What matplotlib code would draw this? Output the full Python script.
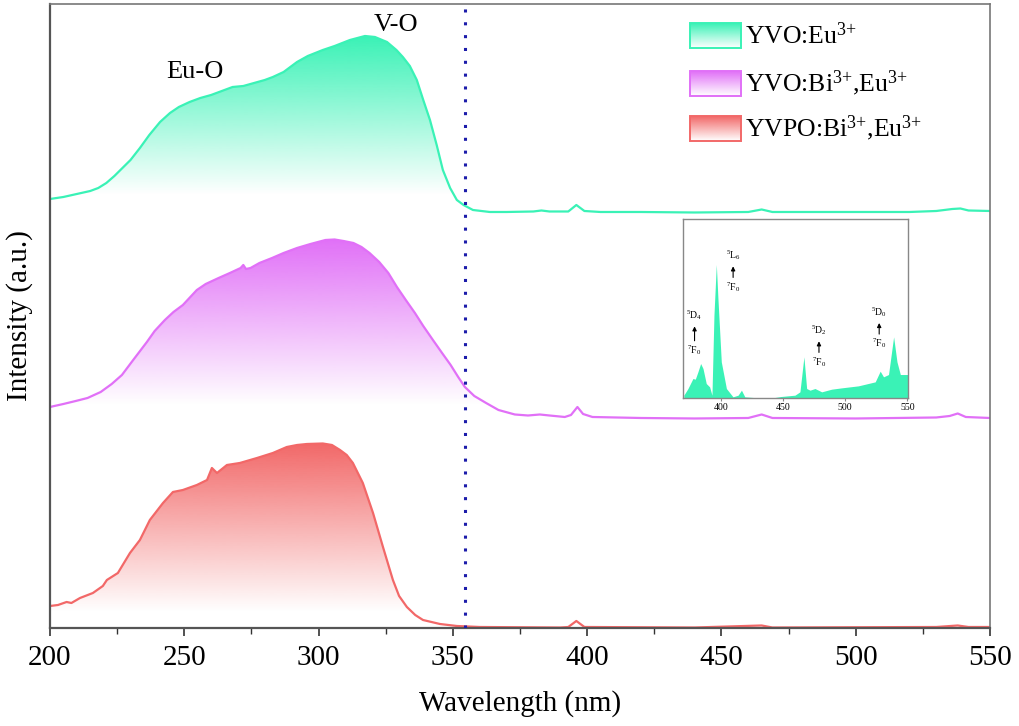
import matplotlib
matplotlib.use("Agg")
import matplotlib.pyplot as plt
import numpy as np
from matplotlib.colors import to_rgb
from matplotlib.patches import Polygon, Rectangle

plt.rcParams['font.family'] = ['Liberation Serif', 'DejaVu Serif']
plt.rcParams['mathtext.fontset'] = 'custom'
plt.rcParams['mathtext.rm'] = 'Liberation Serif'
plt.rcParams['mathtext.it'] = 'Liberation Serif:italic'
plt.rcParams['mathtext.bf'] = 'Liberation Serif:bold'

# --- main excitation spectra (wavelength nm, intensity a.u., curves already stacked) ---
wl_yvo = [200, 205, 210, 215, 218, 221, 224, 227, 230, 233.5, 237, 241, 244.7, 248, 252, 256,
          260, 264, 268, 272, 276, 280, 283, 287, 292, 296, 301.6, 306, 311.7, 317.3, 321,
          325.5, 329, 331.4, 334, 336.6, 339, 341.5, 344, 346.3, 349, 351.5, 354, 357.5,
          363.8, 370, 380, 383, 386, 393, 396, 399, 405, 420, 440, 460, 465, 469, 500, 520,
          530, 536, 539, 542, 550]
int_yvo = [429, 431, 434, 437, 440, 445, 452, 460, 468, 480, 493, 506, 515, 521, 526, 530,
           533, 537, 541, 542, 545, 548, 551, 556, 566, 572, 578, 582, 588, 592, 591,
           586, 578, 571, 562, 548, 528, 508, 483, 458, 440, 428, 423, 418,
           416, 416, 416.5, 417.5, 416.5, 416.5, 423, 417, 416, 416, 415.5, 416, 418.5, 416, 416, 416,
           417, 419, 419.5, 417.5, 417]

wl_bi = [200, 205, 209.6, 214, 218.9, 223, 226.8, 231, 236.1, 239, 242.8, 246, 249.5, 254.7,
         258, 262.8, 267, 271, 272, 273, 274.7, 278, 282.7, 287, 292, 297, 302.6, 306, 309.3,
         313, 316, 319, 322.6, 326, 329.2, 332.5, 335.9, 339, 342.6, 346, 349.2, 352, 354.5,
         358, 362.4, 367, 373.1, 378, 382.4, 386, 391.7, 394, 396.4, 398.5, 402, 420, 440,
         460, 465, 469, 500, 530, 535, 538, 541, 550]
int_bi = [221, 224, 227, 230, 236, 244, 253, 268, 286, 297, 308, 316, 323, 338,
          344, 350, 355, 360, 363, 359, 360, 365, 370, 375, 380, 384, 388, 388.5, 387,
          385, 381, 375, 366, 355, 341, 328, 315, 302, 288, 275, 263, 251, 241,
          232, 225, 218, 213.5, 212.5, 213.5, 212.5, 211, 213, 221, 214, 211, 210, 209.5,
          210, 213.5, 210, 209.5, 210.5, 212, 214.5, 211, 210]

wl_yvpo = [200, 203, 206.2, 208, 211.2, 216, 219.7, 221.2, 225.3, 229.8, 233.5, 237.2, 242.1,
           245.8, 249.5, 254.7, 258.5, 260.3, 262.2, 265.9, 270.7, 277.1, 283, 288.2, 292,
           295.7, 301.6, 305, 308, 310.5, 312.8, 316.5, 320.3, 324, 327.7, 330, 332.9, 336,
           338.9, 345.2, 351.5, 360, 390, 393, 396, 399, 440, 465, 469, 530, 538, 542, 550]
int_yvpo = [22, 23, 26, 25, 30, 35, 42, 48, 55, 75, 88, 108, 125,
            136, 138, 143, 148, 160, 155, 163, 165, 170, 175, 181, 183,
            184, 184.5, 183, 178, 173, 165, 145, 115, 81, 48, 32, 21, 13,
            8, 4, 2, 1, 0.5, 1, 7, 1, 0.5, 2.5, 0.5, 1, 2.5, 1, 1]

labels = ['YVO:Eu$^{3{+}}$', 'YVO:Bi$^{3{+}}$,Eu$^{3{+}}$', 'YVPO:Bi$^{3{+}}$,Eu$^{3{+}}$']
colors = ['#3af2b6', '#e170f7', '#f26868']
fade_to = [433, 223, 16]   # level where the fill has faded to white

# --- inset: YVO:Eu3+ spectrum ---
wl_inset = [370.4, 373.7, 377.7, 379.6, 381.7, 383.9, 385.8, 388.4, 391.1, 393, 394.6, 396.5,
            397.8, 400.5, 404.6, 409.9, 414, 416.7, 419.4, 430, 443.5, 448.4, 459.7, 463.7,
            466.9, 469.1, 471.8, 475.8, 481.2, 489.2, 497.3, 510.7, 524.2, 528.2, 530.9,
            534.9, 539, 541.7, 544.4, 550.6]
int_inset = [8, 28, 58, 56, 78, 103, 88, 43, 33, 8, 248, 400,
             298, 108, 28, 3, 8, 23, 3, 0, 1, 4, 8, 18,
             123, 28, 23, 28, 18, 26, 30, 36, 48, 80, 63,
             70, 183, 108, 70, 70]
trans_up = ['$^5$D$_4$', '$^5$L$_6$', '$^5$D$_2$', '$^5$D$_0$']
trans_wl = [379, 410, 479, 527.4]
trans_lo = [143, 333, 108, 163]
trans_hi = [248, 428, 203, 258]

fig = plt.figure(figsize=(10.19, 7.26), dpi=100)
ax = fig.add_axes([0.049, 0.135, 0.9225, 0.8595])


def gradient_fill(axis, x, y, color, low, lw=1.6):
    x = np.asarray(x, float)
    y = np.asarray(y, float)
    base = y.min()
    verts = np.column_stack([np.r_[x[0], x, x[-1]], np.r_[base, y, base]])
    poly = Polygon(verts, closed=True, facecolor='none', edgecolor='none')
    axis.add_patch(poly)
    top = y.max()
    n = 256
    rgba = np.zeros((n, 1, 4))
    rgba[:, 0, :3] = to_rgb(color)
    rgba[:, 0, 3] = np.linspace(1, 0, n)
    im = axis.imshow(rgba, extent=[x[0], x[-1], low, top], origin='upper',
                     aspect='auto', zorder=1, interpolation='bilinear')
    im.set_clip_path(poly)
    axis.plot(x, y, color=color, lw=lw, zorder=2)


for wl, it, c, lo in zip([wl_yvo, wl_bi, wl_yvpo], [int_yvo, int_bi, int_yvpo], colors, fade_to):
    gradient_fill(ax, wl, it, c, lo)

ax.axvline(354.5, color='#1c1caa', lw=2.2, ls=(0, (1, 3.2)), zorder=3)

ax.text(254, 556, 'Eu-O', fontsize=19, ha='center', va='center')
ax.text(329, 603, 'V-O', fontsize=19, ha='center', va='center')

ax.set_xlim(200, 550)
ax.set_ylim(0, 624)
ax.set_xticks(np.arange(200, 551, 50))
ax.set_xticks(np.arange(225, 550, 50), minor=True)
ax.set_yticks([])
ax.tick_params(axis='x', which='major', direction='out', length=6, width=1.2,
               labelsize=21, pad=6, color='#333333')
ax.tick_params(axis='x', which='minor', direction='out', length=4, width=1.0, color='#333333')
for side, sp in ax.spines.items():
    sp.set_color('#555555' if side in ('left', 'bottom') else '#777777')
    sp.set_linewidth(1.6 if side in ('left', 'bottom') else 1.2)
ax.set_xlabel('Wavelength (nm)', fontsize=21, labelpad=14)
ax.set_ylabel('Intensity (a.u.)', fontsize=21, labelpad=12)

# legend with gradient swatches
leg_y = [0.950, 0.873, 0.801]
for lab, c, yc in zip(labels, colors, leg_y):
    x0, x1, h = 0.681, 0.735, 0.040
    rgba = np.zeros((64, 1, 4))
    rgba[:, 0, :3] = to_rgb(c)
    rgba[:, 0, 3] = np.linspace(1, 0, 64)
    ax.imshow(rgba, extent=[x0, x1, yc - h / 2, yc + h / 2], transform=ax.transAxes,
              aspect='auto', zorder=4, origin='upper')
    ax.add_patch(Rectangle((x0, yc - h / 2), x1 - x0, h, transform=ax.transAxes,
                           facecolor='none', edgecolor=c, lw=1.4, zorder=5))
    ax.text(0.739, yc, lab, transform=ax.transAxes, fontsize=18.5, va='center', ha='left')
ax.set_xlim(200, 550)
ax.set_ylim(0, 624)

# inset
axi = fig.add_axes([0.670, 0.452, 0.221, 0.246])
axi.fill_between(wl_inset, int_inset, 0, color=colors[0], lw=0)
for lab, w, lo, hi in zip(trans_up, trans_wl, trans_lo, trans_hi):
    axi.text(w, hi, lab, fontsize=7, ha='center', va='center')
    axi.text(w, lo, '$^7$F$_0$', fontsize=7, ha='center', va='center')
    axi.annotate('', xy=(w, hi - 25), xytext=(w, lo + 20),
                 arrowprops=dict(arrowstyle='-|>', color='black', lw=0.8, mutation_scale=6))
axi.set_xlim(369.5, 550.5)
axi.set_ylim(0, 536)
axi.set_xticks([400, 450, 500, 550])
axi.set_yticks([])
axi.tick_params(axis='x', labelsize=7, length=2, pad=1.5, color='#888888')
for sp in axi.spines.values():
    sp.set_color('#888888')
    sp.set_linewidth(1.0)

fig.savefig('out.png', dpi=100)
